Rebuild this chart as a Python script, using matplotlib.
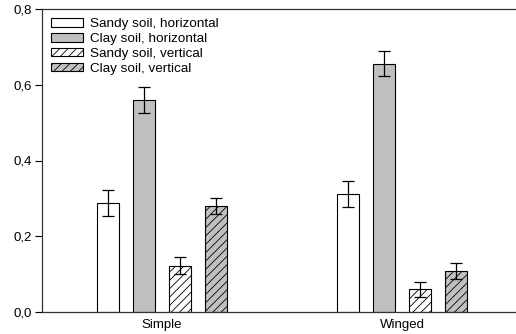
import numpy as np
import matplotlib.pyplot as plt

# data
groups = ['Simple', 'Winged']
series = ['Sandy soil, horizontal', 'Clay soil, horizontal',
          'Sandy soil, vertical', 'Clay soil, vertical']
sandy_h = [0.288, 0.311]
clay_h = [0.560, 0.656]
sandy_v = [0.122, 0.060]
clay_v = [0.280, 0.108]
sandy_h_err = [0.034, 0.034]
clay_h_err = [0.035, 0.034]
sandy_v_err = [0.022, 0.020]
clay_v_err = [0.022, 0.021]

values = [sandy_h, clay_h, sandy_v, clay_v]
errors = [sandy_h_err, clay_h_err, sandy_v_err, clay_v_err]
fills = ['white', '#c0c0c0', 'white', '#c0c0c0']
hatches = [None, None, '////', '////']

plt.rcParams['font.family'] = ['Liberation Sans', 'DejaVu Sans']
plt.rcParams['hatch.linewidth'] = 0.6

fig = plt.figure(figsize=(5.16, 3.34), dpi=100)
ax = fig.add_axes([42 / 516, 22 / 334, 1 - 42 / 516, (312 - 9) / 334])

x = np.arange(len(groups))
width = 0.0917
pitch = 0.15
for i, (vals, errs) in enumerate(zip(values, errors)):
    ax.bar(x + (i - 1.5) * pitch, vals, width, yerr=errs, color=fills[i],
           edgecolor='black', linewidth=0.8, hatch=hatches[i], label=series[i],
           error_kw=dict(ecolor='black', elinewidth=0.9, capsize=4, capthick=0.9))

ax.set_xlim(-0.5, 1.475)
ax.set_ylim(0, 0.8)
ax.set_xticks(x)
ax.set_xticklabels(groups, fontsize=9.5)
ax.tick_params(axis='x', length=0, pad=5)
ax.set_yticks([0, 0.2, 0.4, 0.6, 0.8])
ax.set_yticklabels(['0,0', '0,2', '0,4', '0,6', '0,8'], fontsize=9.5)
ax.tick_params(axis='y', direction='out', length=5, width=0.8, pad=2)
ax.spines['right'].set_visible(False)
for s in ['left', 'top', 'bottom']:
    ax.spines[s].set_linewidth(0.9)
    ax.spines[s].set_color('#333333')

ax.legend(loc='upper left', bbox_to_anchor=(0.0, 1.0), frameon=False, fontsize=9.7,
          handlelength=2.35, handleheight=0.6, labelspacing=0.2,
          handletextpad=0.5, borderaxespad=0.3, borderpad=0.4)

fig.savefig('out.png', dpi=100)
